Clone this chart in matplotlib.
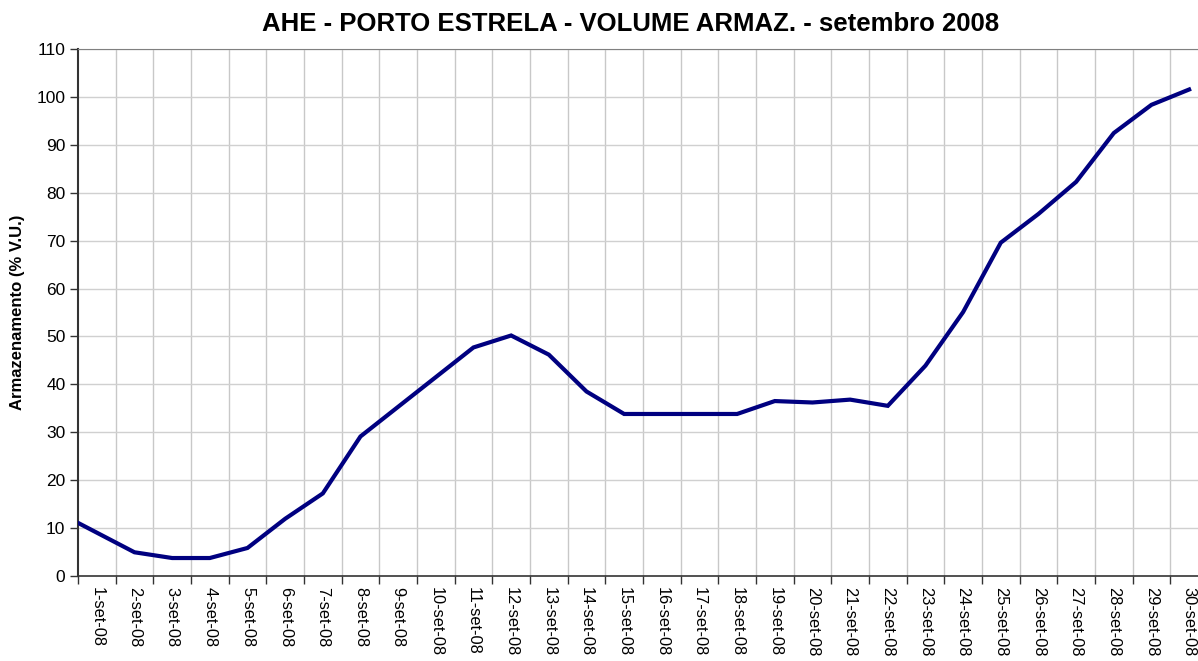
import matplotlib
matplotlib.use("Agg")
import matplotlib.pyplot as plt
import numpy as np

plt.rcParams['font.family'] = ['Liberation Sans', 'DejaVu Sans']

# dias (31-ago aparece so como inicio da linha, fora do eixo)
dias = ['31-ago-08'] + ['%d-set-08' % d for d in range(1, 31)]
armaz = [13.1, 9.0, 4.9, 3.7, 3.7, 5.8, 11.9, 17.2, 29.1, 35.3, 41.5,
         47.7, 50.2, 46.2, 38.5, 33.8, 33.8, 33.8, 33.8, 36.5, 36.2,
         36.8, 35.5, 43.9, 55.1, 69.6, 75.6, 82.3, 92.5, 98.4, 101.6]
yticks = list(range(0, 111, 10))

x = np.arange(len(dias))

fig = plt.figure(figsize=(11.98, 6.61), dpi=100)
ax = fig.add_axes([0.0651, 0.129, 0.9432, 0.7964])

ax.plot(x, armaz, color='#000080', lw=3, solid_joinstyle='miter', zorder=3)

ax.set_xlim(0.5, 30.5)
ax.set_ylim(0, 110)
ax.set_yticks(yticks)
ax.set_xticks(x[1:])
ax.set_xticklabels(dias[1:], rotation=-90, fontsize=11.8)
ax.set_xticks(np.arange(0.5, 31, 1), minor=True)
ax.tick_params(axis='x', which='major', length=0, pad=8)
ax.tick_params(axis='x', which='minor', length=6, width=1, color='#333333')
ax.tick_params(axis='y', length=6, width=1, color='#333333', labelsize=12.5, pad=3)

ax.grid(False)
for v in np.arange(1.5, 31, 1):
    ax.axvline(v, color='#c8c8c8', lw=1, zorder=1)
for v in yticks[1:]:
    ax.axhline(v, color='#d0d0d0', lw=1, zorder=1)

ax.spines['left'].set_color('#333333')
ax.spines['bottom'].set_color('#333333')
ax.spines['left'].set_linewidth(1.5)
ax.spines['bottom'].set_linewidth(1.2)
ax.spines['top'].set_color('#808080')
ax.spines['right'].set_visible(False)

ax.set_ylabel('Armazenamento (% V.U.)', fontsize=12, fontweight='bold', labelpad=8)
fig.text(0.526, 0.964, 'AHE - PORTO ESTRELA - VOLUME ARMAZ. - setembro 2008',
         ha='center', va='center', fontsize=18.5, fontweight='bold')

fig.savefig('out.png', dpi=100)
